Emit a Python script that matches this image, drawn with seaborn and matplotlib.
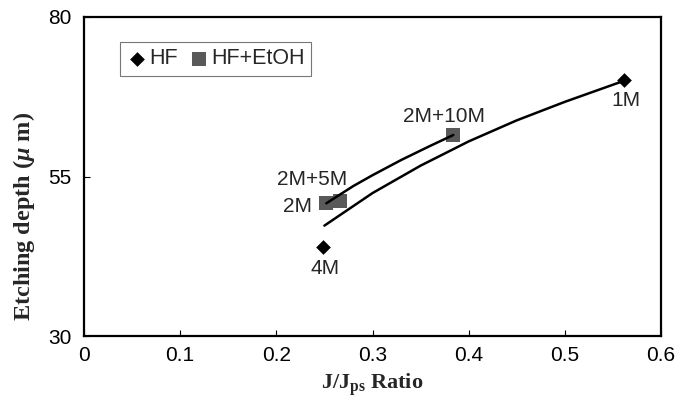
import matplotlib
matplotlib.use("Agg")
import matplotlib.pyplot as plt
import seaborn as sns
import pandas as pd

# ---- data ----
hf_x = [0.5615, 0.2485]
hf_y = [70.2, 44.0]
hf_labels = ["1M", "4M"]

etoh_x = [0.252, 0.266, 0.384]
etoh_y = [50.8, 51.2, 61.5]
etoh_labels = ["2M", "2M+5M", "2M+10M"]

# trend curves
hf_curve_x = [0.25, 0.30, 0.35, 0.40, 0.45, 0.50, 0.5615]
hf_curve_y = [47.3, 52.4, 56.7, 60.5, 63.8, 66.7, 70.0]
etoh_curve_x = [0.252, 0.28, 0.30, 0.33, 0.36, 0.384]
etoh_curve_y = [50.8, 53.5, 55.2, 57.6, 59.8, 61.5]

x_ticks = [0, 0.1, 0.2, 0.3, 0.4, 0.5, 0.6]
x_tick_labels = ["0", "0.1", "0.2", "0.3", "0.4", "0.5", "0.6"]
y_ticks = [30, 55, 80]

sns.set_style("white")
plt.rcParams["font.family"] = ["Liberation Sans", "DejaVu Sans"]
plt.rcParams["mathtext.fontset"] = "custom"
plt.rcParams["mathtext.rm"] = "Liberation Serif:bold"
plt.rcParams["mathtext.bf"] = "Liberation Serif:bold"
plt.rcParams["mathtext.it"] = "Liberation Serif:italic:bold"

fig = plt.figure(figsize=(6.78, 4.03), dpi=100)
ax = fig.add_axes([84 / 678, 67 / 403, 577 / 678, 319 / 403])

hf_df = pd.DataFrame({"x": hf_x, "y": hf_y})
et_df = pd.DataFrame({"x": etoh_x, "y": etoh_y})
hfc = pd.DataFrame({"x": hf_curve_x, "y": hf_curve_y})
etc = pd.DataFrame({"x": etoh_curve_x, "y": etoh_curve_y})

sns.lineplot(data=hfc, x="x", y="y", ax=ax, color="black", lw=1.8, sort=False, zorder=2)
sns.lineplot(data=etc, x="x", y="y", ax=ax, color="black", lw=1.8, sort=False, zorder=2)
sns.scatterplot(data=hf_df, x="x", y="y", ax=ax, marker="D", s=56, color="black",
                edgecolor="black", linewidth=0, label="HF", zorder=3)
sns.scatterplot(data=et_df, x="x", y="y", ax=ax, marker="s", s=90, color="#595959",
                edgecolor="#595959", linewidth=0, label="HF+EtOH", zorder=1)

# point annotations
fs = 15
ax.annotate(hf_labels[0], (hf_x[0], hf_y[0]), xytext=(1.5, -15), textcoords="offset points",
            ha="center", va="center", fontsize=fs)
ax.annotate(hf_labels[1], (hf_x[1], hf_y[1]), xytext=(1.5, -16), textcoords="offset points",
            ha="center", va="center", fontsize=fs)
ax.annotate(etoh_labels[0], (etoh_x[0], etoh_y[0]), xytext=(-21, -2.5), textcoords="offset points",
            ha="center", va="center", fontsize=fs)
ax.annotate(etoh_labels[1], (etoh_x[1], etoh_y[1]), xytext=(-20, 15), textcoords="offset points",
            ha="center", va="center", fontsize=fs)
ax.annotate(etoh_labels[2], (etoh_x[2], etoh_y[2]), xytext=(-7, 13), textcoords="offset points",
            ha="center", va="center", fontsize=fs)

ax.set_xlim(0, 0.6)
ax.set_ylim(30, 80)
ax.set_xticks(x_ticks)
ax.set_xticklabels(x_tick_labels)
ax.set_yticks(y_ticks)
ax.tick_params(axis="both", direction="in", length=4, width=0.8, labelsize=15,
               colors="black", bottom=True, left=True, top=False, right=False)
ax.tick_params(axis="x", pad=7)
ax.tick_params(axis="y", pad=9)
for sp in ax.spines.values():
    sp.set_color("black")
    sp.set_linewidth(1.6)

ax.set_xlabel(r"J/J$_{\mathrm{ps}}$ Ratio", fontsize=16, fontweight="bold",
              fontfamily="Liberation Serif")
ax.set_ylabel(r"Etching depth ($\mu$ m)", fontsize=17.5, fontweight="bold",
              fontfamily="Liberation Serif")
ax.xaxis.set_label_coords(0.5, -0.112)
ax.yaxis.set_label_coords(-0.082, 0.375)

leg = ax.legend(loc="upper left", bbox_to_anchor=(0.062, 0.922), ncol=2, frameon=True,
                fancybox=False, fontsize=15.5, handletextpad=0.05, columnspacing=0.5,
                borderpad=0.3, handlelength=1.0, borderaxespad=0)
leg.get_frame().set_edgecolor("#555555")
leg.get_frame().set_linewidth(0.8)

fig.savefig("out.png", dpi=100)
